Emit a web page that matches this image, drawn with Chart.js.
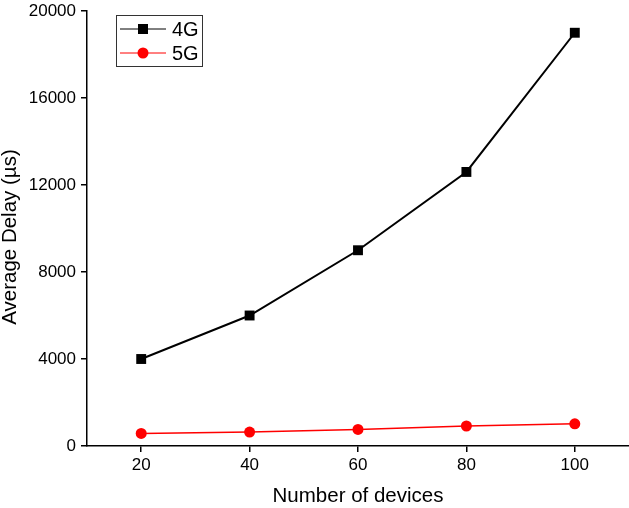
<!DOCTYPE html>
<html>
<head>
<meta charset="utf-8">
<script src="https://cdn.jsdelivr.net/npm/chart.js@4.4.1/dist/chart.umd.min.js"></script>
<style>
  html, body { margin: 0; padding: 0; background: #fff; }
  #wrap { width: 629px; height: 508px; }
</style>
</head>
<body>
<div id="wrap"><canvas id="delayChart" width="629" height="508"></canvas></div>
<script>
const devices = [20, 40, 60, 80, 100];
const delay4G = [4000, 6000, 9000, 12600, 19000];
const delay5G = [580, 640, 760, 920, 1020];
const xTicks = [20, 40, 60, 80, 100];
const yTicks = [0, 4000, 8000, 12000, 16000, 20000];

const FONT = "'Liberation Sans', Arial, sans-serif";

/* ── legend box drawn like the original (line + marker) ── */
const boxLegend = {
  id: "boxLegend",
  afterDraw(chart) {
    const ctx = chart.ctx;
    const x0 = 116, y0 = 15, w = 86, h = 51;
    ctx.save();
    ctx.strokeStyle = "#333";
    ctx.lineWidth = 1;
    ctx.strokeRect(x0 + 0.5, y0 + 0.5, w, h);
    chart.data.datasets.forEach((ds, i) => {
      const cy = y0 + 14 + i * 24;
      ctx.strokeStyle = ds.borderColor;
      ctx.lineWidth = 1;
      ctx.beginPath();
      ctx.moveTo(x0 + 4, cy);
      ctx.lineTo(x0 + 50, cy);
      ctx.stroke();
      ctx.fillStyle = ds.pointBackgroundColor;
      if (ds.pointStyle === "rect") {
        ctx.fillRect(x0 + 22, cy - 5, 10, 10);
      } else {
        ctx.beginPath();
        ctx.arc(x0 + 27, cy, 5.5, 0, Math.PI * 2);
        ctx.fill();
      }
      ctx.fillStyle = "#000";
      ctx.font = "20px " + FONT;
      ctx.textBaseline = "middle";
      ctx.fillText(ds.label, x0 + 56, cy + 1);
    });
    ctx.restore();
  },
};

const ctx = document.getElementById("delayChart").getContext("2d");
new Chart(ctx, {
  type: "line",
  data: {
    datasets: [
      {
        label: "4G",
        data: devices.map((d, i) => ({ x: d, y: delay4G[i] })),
        borderColor: "#000",
        backgroundColor: "#000",
        pointBackgroundColor: "#000",
        pointBorderWidth: 0,
        pointStyle: "rect",
        pointRadius: 7,
        borderWidth: 2,
        tension: 0,
        clip: false,
      },
      {
        label: "5G",
        data: devices.map((d, i) => ({ x: d, y: delay5G[i] })),
        borderColor: "#ff0000",
        backgroundColor: "#ff0000",
        pointBackgroundColor: "#ff0000",
        pointBorderWidth: 0,
        pointStyle: "circle",
        pointRadius: 5.5,
        borderWidth: 1.5,
        tension: 0,
        clip: false,
      },
    ],
  },
  options: {
    responsive: false,
    animation: false,
    layout: { autoPadding: false, padding: { top: 11, right: 0, left: 0, bottom: 0 } },
    plugins: { legend: { display: false }, tooltip: { enabled: false } },
    scales: {
      x: {
        type: "linear",
        min: 10,
        max: 110,
        afterBuildTicks: (axis) => { axis.ticks = xTicks.map((v) => ({ value: v })); },
        afterFit: (axis) => { axis.height = 62; axis.paddingRight = 0; axis.paddingLeft = 0; },
        border: { display: true, color: "#000", width: 1.5 },
        grid: { drawOnChartArea: false, drawTicks: true, tickLength: 6, color: "#000", lineWidth: 1.5 },
        ticks: { color: "#000", font: { family: FONT, size: 17 }, padding: 3, maxRotation: 0, callback: (v) => String(v) },
        title: { display: true, text: "Number of devices", color: "#000", font: { family: FONT, size: 20.5 }, padding: { top: 0, bottom: -1 } },
      },
      y: {
        min: 0,
        max: 20000,
        afterBuildTicks: (axis) => { axis.ticks = yTicks.map((v) => ({ value: v })); },
        afterFit: (axis) => { axis.width = 87; axis.paddingTop = 0; axis.paddingBottom = 0; },
        border: { display: true, color: "#000", width: 1.5 },
        grid: { drawOnChartArea: false, drawTicks: true, tickLength: 6, color: "#000", lineWidth: 1.5 },
        ticks: { color: "#000", font: { family: FONT, size: 17 }, padding: 5, callback: (v) => String(v) },
        title: { display: true, text: "Average Delay (µs)   ", color: "#000", font: { family: FONT, size: 20.5 }, padding: { top: -2, bottom: 0 } },
      },
    },
  },
  plugins: [boxLegend],
});
</script>
</body>
</html>
